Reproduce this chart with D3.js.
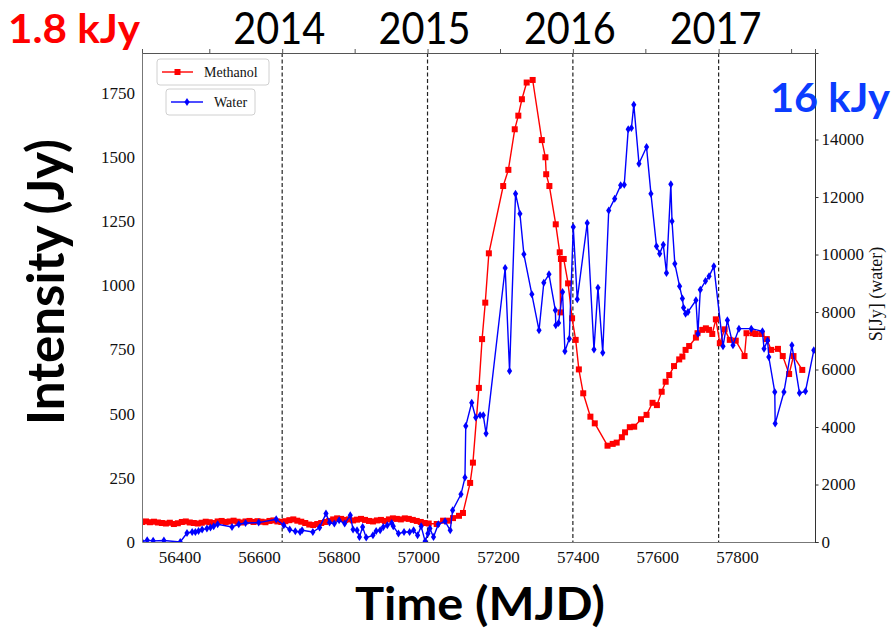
<!DOCTYPE html>
<html><head><meta charset="utf-8">
<script src="https://cdn.jsdelivr.net/npm/d3@7"></script>
<style>
body{margin:0;background:#fff;}
svg{display:block;}
</style></head>
<body><svg id="c" width="895" height="632"></svg>
<script>
// ---------- data ----------
const methanolMJD = [56306,56316,56326,56336,56346,56356,56366,56376,56386,56396,56406,56416,56426,56436,56446,56456,56466,56476,56486,56496,56506,56516,56526,56536,56546,56556,56566,56576,56586,56596,56606,56616,56626,56636,56646,56656,56666,56676,56686,56696,56706,56716,56726,56736,56746,56756,56766,56776,56786,56796,56806,56816,56826,56836,56846,56856,56866,56876,56886,56896,56906,56916,56926,56936,56946,56956,56966,56976,56986,56996,57006,57016,57026,57046,57062,57077,57087,57102,57112,57130,57137,57152,57160,57168,57177,57213,57226,57242,57251,57260,57272,57287,57310,57319,57321,57329,57345,57355,57357,57358,57365,57376,57386,57395,57403,57414,57432,57443,57475,57488,57498,57511,57519,57531,57542,57559,57573,57588,57599,57611,57621,57630,57642,57655,57663,57671,57680,57697,57701,57713,57722,57730,57738,57747,57757,57769,57782,57797,57819,57824,57840,57847,57862,57875,57886,57903,57915,57931,57942,57964];
const methanolJy = [78,80,77,79,76,74,72,75,70,73,78,80,76,74,72,75,79,77,74,80,82,78,80,83,79,76,80,82,78,81,79,77,82,84,80,78,81,85,88,83,79,74,68,66,70,74,78,82,88,92,90,86,88,84,87,90,86,82,80,84,86,82,88,92,90,88,92,90,86,82,78,74,72,70,83,83,93,102,113,230,309,600,790,932,1124,1386,1449,1607,1660,1724,1789,1799,1565,1498,1432,1386,1237,1128,894,1102,1102,1007,871,787,672,579,488,462,375,382,387,408,427,447,449,478,495,542,533,585,624,650,685,711,722,748,763,796,813,826,832,826,810,867,774,828,787,784,724,813,813,810,810,790,748,752,724,654,724,670];

const waterMJD = [56306,56319,56334,56361,56402,56419,56432,56440,56448,56457,56469,56478,56486,56496,56532,56549,56566,56599,56643,56662,56677,56691,56703,56708,56735,56752,56768,56777,56789,56801,56815,56829,56836,56846,56852,56860,56869,56886,56894,56904,56912,56922,56933,56937,56950,56964,56978,56988,56998,57007,57017,57024,57029,57038,57050,57067,57080,57086,57107,57117,57119,57134,57144,57155,57163,57170,57218,57229,57244,57255,57265,57285,57303,57315,57328,57344,57345,57352,57362,57368,57379,57389,57399,57424,57441,57451,57463,57478,57493,57508,57517,57527,57535,57541,57554,57573,57584,57598,57606,57615,57623,57634,57637,57644,57656,57663,57666,57671,57677,57697,57702,57708,57721,57730,57742,57765,57776,57790,57805,57836,57864,57868,57877,57880,57895,57896,57918,57938,57957,57972,57993];
const waterJy = [20,60,40,50,0,313,348,348,383,431,466,501,546,616,522,616,661,675,790,581,431,372,348,407,348,501,988,675,640,755,640,929,431,407,174,522,153,233,383,407,522,581,661,546,292,348,348,407,233,546,24,292,466,174,616,720,407,1103,1659,2240,4034,4848,4327,4407,4407,3770,9530,5947,12117,11422,10006,8615,7363,9022,9311,8058,7537,7617,8695,6633,7074,10956,8441,11095,6692,8848,6587,11531,11943,12406,12430,14354,14399,15213,13161,13738,12117,10285,10031,10344,9356,12441,11154,9683,8893,8466,8152,7944,8000,8407,7248,8778,9078,9241,9589,6807,7711,6841,7422,7422,7328,6726,7005,6434,5217,4118,5217,6841,5182,5241,6667];

const xTicks = [56400,56600,56800,57000,57200,57400,57600,57800];
const leftTicks = [0,250,500,750,1000,1250,1500,1750];
const rightTicks = [0,2000,4000,6000,8000,10000,12000,14000];
const yearLabels = ["2014","2015","2016","2017"];
const yearMJD = [56658,57023,57388,57754];
const halfYearMJD = [56475,56840,57205,57570,57936];
const seriesNames = ["Methanol","Water"];

// ---------- layout ----------
const L=142,R=815,T=53,B=542;
const svg = d3.select("#c");
const x = d3.scaleLinear().domain([56306,57996]).range([L,R]);
const yL = d3.scaleLinear().domain([0,1904]).range([B,T]);
const yR = d3.scaleLinear().domain([0,17010]).range([B,T]);
const serif = "'Liberation Serif','Times New Roman',serif";
const big = "Lato,'Open Sans',sans-serif";

svg.append("defs").append("clipPath").attr("id","clip")
  .append("rect").attr("x",L).attr("y",T).attr("width",R-L).attr("height",B-T);

// dashed year lines
svg.append("g").selectAll("line").data(yearMJD).join("line")
  .attr("x1",d=>x(d)).attr("x2",d=>x(d)).attr("y1",T).attr("y2",B)
  .attr("stroke","#222").attr("stroke-width",1.2).attr("stroke-dasharray","4,2.5");

// methanol
const gM = svg.append("g").attr("clip-path","url(#clip)");
const mData = methanolMJD.map((d,i)=>[d,methanolJy[i]]);
gM.append("path").datum(mData)
  .attr("d",d3.line().x(d=>x(d[0])).y(d=>yL(d[1])))
  .attr("fill","none").attr("stroke","#ff0000").attr("stroke-width",1.4);
gM.selectAll("rect").data(mData).join("rect")
  .attr("x",d=>x(d[0])-3).attr("y",d=>yL(d[1])-3).attr("width",6).attr("height",6)
  .attr("fill","#ff0000");

// water
const gW = svg.append("g").attr("clip-path","url(#clip)");
const wData = waterMJD.map((d,i)=>[d,waterJy[i]]);
gW.append("path").datum(wData)
  .attr("d",d3.line().x(d=>x(d[0])).y(d=>yR(d[1])))
  .attr("fill","none").attr("stroke","#0000ff").attr("stroke-width",1.4);
const diamond = "M0,-4L2.6,0L0,4L-2.6,0Z";
gW.selectAll("path.m").data(wData).join("path").attr("class","m")
  .attr("d",diamond).attr("transform",d=>`translate(${x(d[0])},${yR(d[1])})`)
  .attr("fill","#0000ff");

// axes
const ax = svg.append("g").attr("transform",`translate(0,${B})`)
  .call(d3.axisBottom(x).tickValues(xTicks).tickSize(0).tickPadding(9).tickFormat(d3.format("d")));
ax.select(".domain").attr("stroke","#777");
ax.selectAll("text").attr("font-family",serif).attr("font-size",17).attr("fill","#111");

const al = svg.append("g").attr("transform",`translate(${L},0)`)
  .call(d3.axisLeft(yL).tickValues(leftTicks).tickSize(0).tickPadding(7).tickFormat(d3.format("d")));
al.select(".domain").attr("stroke","#777");
al.selectAll("text").attr("font-family",serif).attr("font-size",17).attr("fill","#111");

const ar = svg.append("g").attr("transform",`translate(${R},0)`)
  .call(d3.axisRight(yR).tickValues(rightTicks).tickSize(3.5).tickPadding(3).tickFormat(d3.format("d")));
ar.select(".domain").attr("stroke","#333");
ar.selectAll("line").attr("stroke","#333");
ar.selectAll("text").attr("font-family",serif).attr("font-size",17).attr("fill","#111");

// top axis
const at = svg.append("g").attr("transform",`translate(0,${T})`)
  .call(d3.axisTop(x).tickValues(yearMJD.concat(halfYearMJD)).tickSize(4).tickFormat(""));
at.select(".domain").attr("stroke","#555");
at.selectAll("line").attr("stroke","#555");

// year labels
svg.append("g").selectAll("text").data(yearLabels).join("text")
  .attr("x",(d,i)=>x(yearMJD[i])-3).attr("y",44)
  .attr("text-anchor","middle").attr("font-family",big).attr("font-size",44)
  .attr("textLength",92).attr("lengthAdjust","spacingAndGlyphs")
  .attr("fill","#000").text(d=>d);

// big annotations
svg.append("text").attr("x",8).attr("y",43).attr("font-family",big).attr("font-weight","bold")
  .attr("font-size",40).attr("fill","#ff0000")
  .attr("textLength",132).attr("lengthAdjust","spacingAndGlyphs").text("1.8 kJy");
svg.append("text").attr("x",770).attr("y",112).attr("font-family",big).attr("font-weight","bold")
  .attr("font-size",40).attr("fill","#0a3cff")
  .attr("textLength",120).attr("lengthAdjust","spacingAndGlyphs").text("16 kJy");
svg.append("text").attr("transform","translate(64,282) rotate(-90)").attr("text-anchor","middle")
  .attr("font-family",big).attr("font-weight","bold").attr("font-size",52).attr("fill","#000")
  .attr("textLength",286).attr("lengthAdjust","spacingAndGlyphs").text("Intensity (Jy)");
svg.append("text").attr("x",480).attr("y",620).attr("text-anchor","middle")
  .attr("font-family",big).attr("font-weight","bold").attr("font-size",46).attr("fill","#000")
  .attr("textLength",250).attr("lengthAdjust","spacingAndGlyphs").text("Time (MJD)");
svg.append("text").attr("transform","translate(882,294) rotate(-90)").attr("text-anchor","middle")
  .attr("font-family",serif).attr("font-size",18).attr("fill","#111").text("S[Jy] (water)");

// legends
function legend(bx,by,bw,bh,lx0,lx1,name,color,isSquare){
  const g = svg.append("g");
  g.append("rect").attr("x",bx).attr("y",by).attr("width",bw).attr("height",bh).attr("rx",3)
    .attr("fill","#fff").attr("fill-opacity",0.85).attr("stroke","#d0d0d0");
  const cy = by+bh/2;
  g.append("line").attr("x1",lx0).attr("x2",lx1).attr("y1",cy).attr("y2",cy)
    .attr("stroke",color).attr("stroke-width",1.4);
  const mx=(lx0+lx1)/2;
  if(isSquare) g.append("rect").attr("x",mx-3).attr("y",cy-3).attr("width",6).attr("height",6).attr("fill",color);
  else g.append("path").attr("d",diamond).attr("transform",`translate(${mx},${cy})`).attr("fill",color);
  g.append("text").attr("x",lx1+11).attr("y",cy+4.5).attr("font-family",serif).attr("font-size",14)
    .attr("fill","#111").text(name);
}
legend(157,59,112,26,162,193,seriesNames[0],"#ff0000",true);
legend(166,89,89,26,171,203,seriesNames[1],"#0000ff",false);
</script></body></html>
